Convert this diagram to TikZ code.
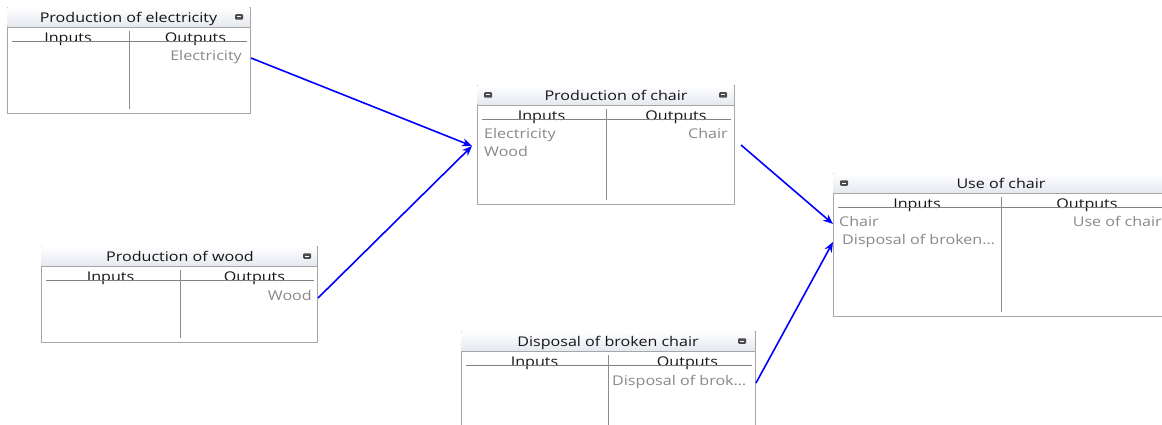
\documentclass[tikz,border=0pt]{standalone}
\usepackage{fontspec}
\setmainfont{Open Sans}[FakeStretch=1.2]
\usetikzlibrary{arrows.meta}
\definecolor{frame}{HTML}{A6A6A6}
\definecolor{headbot}{HTML}{E4E8EF}
\definecolor{itemgray}{HTML}{888888}
\definecolor{headtext}{HTML}{151515}
\definecolor{linkblue}{HTML}{0000FF}
\tikzset{
 boxframe/.style={draw=frame, line width=1pt, inner sep=0pt, anchor=north west},
 headtxt/.style={text=headtext, font=\fontsize{13.4}{15}\selectfont, inner sep=0pt, anchor=mid, yshift=-3pt},
 itemtxt/.style={text=itemgray, font=\fontsize{13.4}{15}\selectfont, inner sep=0pt, yshift=-3pt},
 divline/.style={draw=frame!85!black, line width=1pt},
 headrule/.style={draw=gray, line width=0.8pt},
 link/.style={draw=linkblue, line width=1.6pt, -{Stealth[length=10pt,width=8pt]}},
 mini/.style={fill=black!70, rounded corners=1pt, minimum width=8pt, minimum height=5.5pt, inner sep=0pt},
}
\newcommand\procbox[9]{% name x0 y0 x1 y1 div title titlex outputs-shift
 \node[boxframe, minimum width={(#4-#2)*1pt}, minimum height={(#5-#3)*1pt}] (#1) at (#2,#3) {};
 \shade[top color=white, bottom color=headbot] (#2+0.5,#3+0.5) rectangle (#4-0.5,#3+20);
 \draw[frame] (#2,#3+20) -- (#4,#3+20);
 \node[headtxt] (#1-title) at (#8,#3+10) {#7};
 \node[headtxt] (#1-in) at ({(#2+#6)/2},#3+30) {Inputs};
 \node[headtxt] (#1-out) at ({(#6+#4)/2+#9},#3+30) {Outputs};
 \draw[headrule] (#2+5,#3+34.5) -- (#4-3,#3+34.5);
 \draw[divline] (#6,#3+24) -- (#6,#5-4);
}
\newcommand\miniicon[3]{%
 \node[mini] (#1) at (#2,#3) {};
 \draw[white, line width=1pt] ([xshift=-2pt]#1.center) -- ([xshift=2pt]#1.center);
}
\begin{document}
\begin{tikzpicture}[x=1pt,y=-1pt]
\useasboundingbox (0,0) rectangle (1162,425);
\clip (0,0) rectangle (1162,425);

\procbox{elec}{7}{7}{250}{113}{129}{Production of electricity}{128.5}{6}
\procbox{chair}{477}{85}{734}{204}{606}{Production of chair}{616}{6}
\procbox{use}{833}{173}{1170}{316}{1001}{Use of chair}{1001}{1.5}
\procbox{wood}{41}{246}{317}{342}{180}{Production of wood}{180}{6}
\procbox{disp}{461}{331}{755}{440}{608}{Disposal of broken chair}{608}{6}

\miniicon{elec-btn}{239}{17}
\miniicon{chair-btnl}{488}{95}
\miniicon{chair-btnr}{723}{95}
\miniicon{use-btn}{844}{183}
\miniicon{wood-btn}{307}{256}
\miniicon{disp-btn}{742}{341}

\node[itemtxt, anchor=mid east] (elec-o1) at (242,55) {Electricity};
\node[itemtxt, anchor=mid west] (chair-i1) at (484,133) {Electricity};
\node[itemtxt, anchor=mid west] (chair-i2) at (484,151) {Wood};
\node[itemtxt, anchor=mid east] (chair-o1) at (728,133) {Chair};
\node[itemtxt, anchor=mid west] (use-i1) at (839,221) {Chair};
\node[itemtxt, anchor=mid west] (use-i2) at (842,239) {Disposal of broken…};
\node[itemtxt, anchor=mid east] (use-o1) at (1162,221) {Use of chair};
\node[itemtxt, anchor=mid east] (wood-o1) at (312,295) {Wood};
\node[itemtxt, anchor=mid west] (disp-o1) at (612,380) {Disposal of brok…};

\coordinate (chair-inport) at (472,146);
\coordinate (chair-outport) at (741,145);

\draw[link] (elec.east |- elec-o1.mid) -- (chair-inport);
\draw[link] (wood.east |- wood-o1.mid) -- (chair-inport);
\draw[link] (chair-outport) -- (use.west |- use-i1.mid);
\draw[link] (disp.east |- disp-o1.mid) -- (use.west |- use-i2.mid);
\end{tikzpicture}
\end{document}
